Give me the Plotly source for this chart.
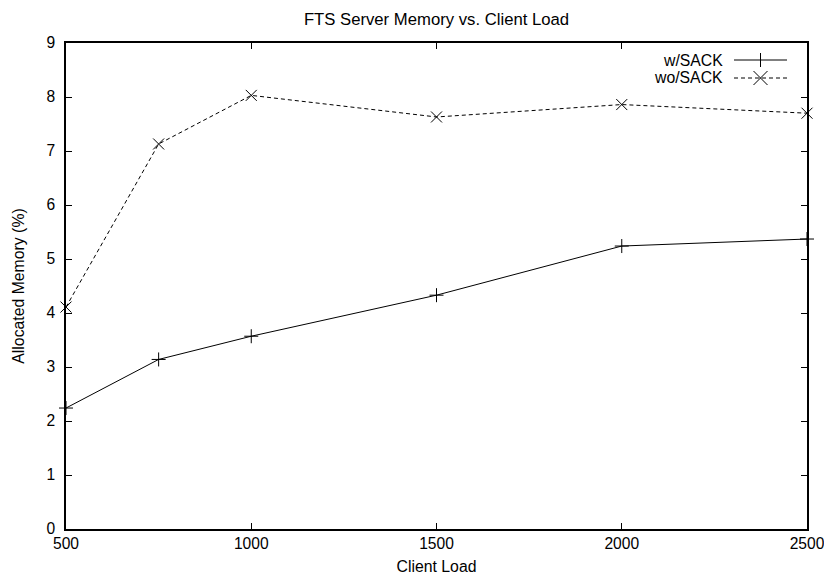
import plotly.graph_objects as go

client_load = [500, 750, 1000, 1500, 2000, 2500]
w_sack = [2.24, 3.14, 3.57, 4.33, 5.24, 5.37]
wo_sack = [4.11, 7.13, 8.03, 7.63, 7.86, 7.70]
series_names = ["w/SACK", "wo/SACK"]
x_ticks = [500, 1000, 1500, 2000, 2500]
y_ticks = list(range(0, 10))

FONT = "Liberation Sans, Arial, Helvetica, sans-serif"
DASH = "4px,3px"

fig = go.Figure()
fig.add_trace(go.Scatter(
    x=client_load, y=w_sack, mode="lines+markers", name=series_names[0],
    line=dict(color="black", width=1),
    marker=dict(symbol="cross-thin", size=10, line=dict(color="black", width=1)),
    showlegend=False, cliponaxis=False))
fig.add_trace(go.Scatter(
    x=client_load, y=wo_sack, mode="lines+markers", name=series_names[1],
    line=dict(color="black", width=1, dash=DASH),
    marker=dict(symbol="x-thin", size=11, line=dict(color="black", width=1)),
    showlegend=False, cliponaxis=False))

# page has an 8px body margin; figure is sized so the page fits 832x583 exactly
OFF = 8
W, H = 832 - 2 * OFF, 583 - 2 * OFF
# plot area in window pixels
L, R, T, B = 66, 807, 43, 529
pw, ph = R - L, B - T

def px(xp):
    return (xp - L) / pw

def py(yp):
    return (B - yp) / ph

# gnuplot-style legend: text right-aligned, sample to the right
legend_rows = [(series_names[0], "solid", "plus"), (series_names[1], DASH, "x")]
shapes = []
annotations = []
for i, (name, dash, sym) in enumerate(legend_rows):
    yc = 60 + i * 18
    annotations.append(dict(x=px(725), y=py(yc), xref="paper", yref="paper",
                            text=name, showarrow=False, xanchor="right", yanchor="middle",
                            font=dict(family=FONT, size=15.8, color="black")))
    shapes.append(dict(type="line", xref="paper", yref="paper",
                       x0=px(734), x1=px(787), y0=py(yc), y1=py(yc),
                       line=dict(color="black", width=1, dash=dash)))
    cx = 760.5
    if sym == "plus":
        shapes.append(dict(type="line", xref="paper", yref="paper",
                           x0=px(cx), x1=px(cx), y0=py(yc - 7), y1=py(yc + 7),
                           line=dict(color="black", width=1)))
    else:
        shapes.append(dict(type="line", xref="paper", yref="paper",
                           x0=px(cx - 7), x1=px(cx + 7), y0=py(yc - 7), y1=py(yc + 7),
                           line=dict(color="black", width=1)))
        shapes.append(dict(type="line", xref="paper", yref="paper",
                           x0=px(cx - 7), x1=px(cx + 7), y0=py(yc + 7), y1=py(yc - 7),
                           line=dict(color="black", width=1)))

fig.update_layout(
    width=W, height=H,
    margin=dict(l=L - OFF, r=W - (R - OFF), t=T - OFF, b=H - (B - OFF), autoexpand=False),
    paper_bgcolor="white", plot_bgcolor="white",
    font=dict(family=FONT, size=15.8, color="black"),
    title=dict(text="FTS Server Memory vs. Client Load", x=0.5, xanchor="center",
               xref="paper",
               y=1 - (19.5 - OFF) / H, yanchor="middle", font=dict(family=FONT, size=16.7)),
    xaxis=dict(range=[500, 2500], tickvals=x_ticks, ticks="inside", ticklen=6,
               tickwidth=1, tickcolor="black", showline=True, linecolor="black",
               linewidth=1.5, mirror="ticks", showgrid=False, zeroline=False,
               automargin=False, ticklabeloverflow="allow",
               title=dict(text="Client Load", font=dict(size=15.8), standoff=16),
               tickfont=dict(size=15.6)),
    yaxis=dict(range=[0, 9], tickvals=y_ticks, ticks="inside", ticklen=6,
               tickwidth=1, tickcolor="black", showline=True, linecolor="black",
               linewidth=1.5, mirror="ticks", showgrid=False, zeroline=False,
               automargin=False, ticklabeloverflow="allow", ticklabelstandoff=6,
               title=dict(text="Allocated Memory (%)", font=dict(size=15.8), standoff=18),
               tickfont=dict(size=15.6)),
    shapes=shapes, annotations=annotations,
)

fig.write_html("out.html")
